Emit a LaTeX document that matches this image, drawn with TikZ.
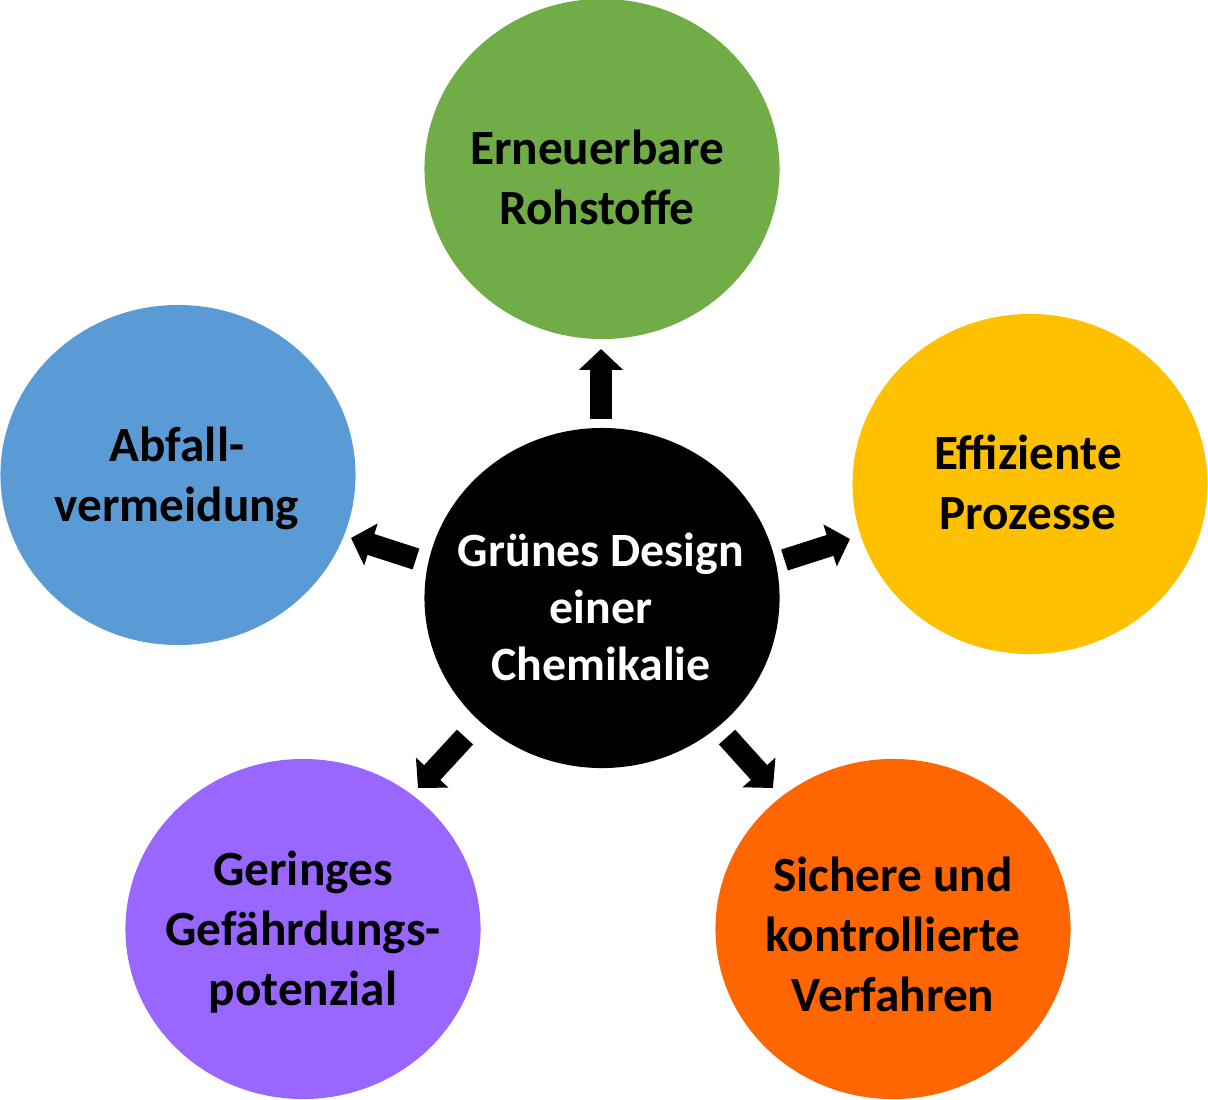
\documentclass[tikz,border=0pt]{standalone}
\usepackage{fontspec}
\setmainfont{Carlito}
\usetikzlibrary{shapes.geometric,arrows.meta}

\definecolor{gruen}{HTML}{70AD47}
\definecolor{gelb}{HTML}{FFC000}
\definecolor{blau}{HTML}{5B9BD5}
\definecolor{lila}{HTML}{9966FF}
\definecolor{orangerot}{HTML}{FF6600}

\tikzset{
    kreis/.style={ellipse, minimum width=8.875cm, minimum height=8.5cm, inner sep=0pt},
    schrift/.style={align=center, inner sep=0pt, font=\fontsize{35}{42.7}\selectfont\bfseries},
    pfeil/.style={line width=15.6pt, -{Triangle[width=30.6pt,length=14.9pt]}},
}

\begin{document}
\begin{tikzpicture}[x=0.025cm, y=-0.025cm]
        \useasboundingbox (0,0) rectangle (1208,1099);
        \foreach \n/\x/\y/\tx/\ty/\f/\t in {rohstoffe/602/169/597/177/gruen/{Erneuerbare\\Rohstoffe},
                                    prozesse/1030/484/1028/482/gelb/{Effiziente\\Prozesse},
                                    abfall/178/475/177/478/blau/{Abfall-\\vermeidung},
                                    gefahr/303/929/303/932/lila/{Geringes\\Gefährdungs-\\potenzial},
                                    verfahren/893/929/893/934/orangerot/{Sichere und\\kontrollierte\\Verfahren}} {
            \node[kreis, fill=\f] (\n) at (\x,\y) {};
            \node[schrift] (\n-text) at (\tx,\ty) {\t};
        }
        \node[kreis, fill=black] (design) at (602,598) {};
        \node[schrift, text=white, font=\fontsize{34}{40.5}\selectfont\bfseries] (design-text) at (601,607) {Grünes Design\\einer\\Chemikalie};
        \foreach \i/\ax/\ay/\bx/\by in {1/601/419/601/349, 2/784.5/560/850/539, 3/416/559/351/538,
                                        4/465/737/418/788, 5/727/737/773/788} {
            \coordinate (von\i) at (\ax,\ay);
            \coordinate (nach\i) at (\bx,\by);
            \draw[pfeil] (von\i) -- (nach\i);
        }
\end{tikzpicture}
\end{document}
